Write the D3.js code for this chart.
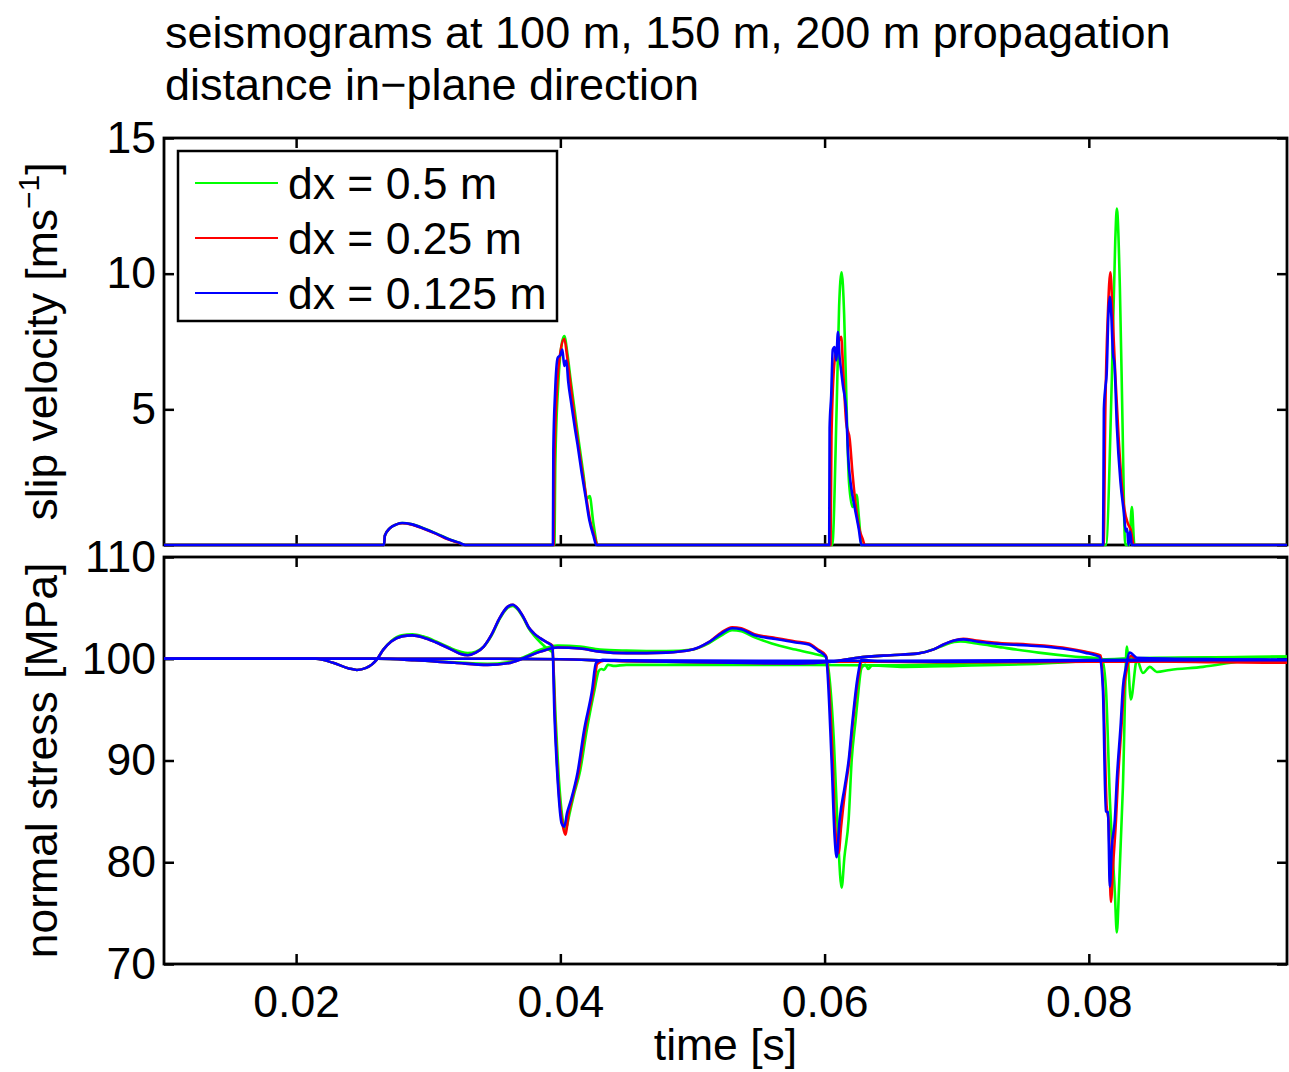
<!DOCTYPE html>
<html><head><meta charset="utf-8">
<script src="https://cdn.jsdelivr.net/npm/d3@7"></script>
<style>
body{margin:0;background:#fff}
svg{display:block}
text{font-family:"Liberation Sans",Arial,Helvetica,sans-serif;fill:#000}
</style>
</head><body>
<svg id="chart" width="1289" height="1072"></svg>
<script>
// ---------------- data ----------------
const titleLines = ["seismograms at 100 m, 150 m, 200 m propagation", "distance in\u2212plane direction"];
const seriesNames = ["dx = 0.5 m", "dx = 0.25 m", "dx = 0.125 m"];
const seriesColors = ["#00ff00", "#ff0000", "#0000ff"];
const timeDomain = [0.01, 0.095];
const timeTicks = [0.02, 0.04, 0.06, 0.08];
const timeTickLabels = ["0.02", "0.04", "0.06", "0.08"];
const slipDomain = [0, 15];
const slipTicks = [0, 5, 10, 15];
const slipTickLabels = ["", "5", "10", "15"];
const stressDomain = [70, 110];
const stressTicks = [70, 80, 90, 100, 110];
const stressTickLabels = ["70", "80", "90", "100", "110"];

// slip velocity [m/s] vs time [s]
const slip_dx050 = [
[0.0100,0],[0.02665,0],[0.02672,0.35],[0.02710,0.62],[0.02760,0.76],[0.02803,0.81],[0.02870,0.77],[0.02970,0.61],[0.03060,0.43],[0.03150,0.23],[0.03235,0.08],[0.03280,0],
[0.03955,0],[0.03962,3.0],[0.03985,6.0],[0.04010,7.4],[0.04030,7.7],[0.04055,7.0],[0.04080,6.0],[0.04110,4.9],[0.04140,3.8],[0.04175,2.6],[0.04200,1.7],[0.04222,1.8],[0.04250,0.8],[0.04285,0],
[0.06058,0],[0.06091,5.0],[0.06110,8.8],[0.06129,10.05],[0.06148,8.5],[0.06167,5.0],[0.06185,2.3],[0.06212,1.4],[0.06242,1.85],[0.06260,1.0],[0.06280,0],
[0.08129,0],[0.08174,6.1],[0.08200,11.2],[0.08212,12.4],[0.08235,9.5],[0.08255,4.5],[0.08273,0.2],[0.08280,0],[0.08305,0],[0.08326,1.4],[0.08345,0],[0.0950,0]
];
const slip_dx025 = [
[0.0100,0],[0.02665,0],[0.02672,0.35],[0.02710,0.62],[0.02760,0.76],[0.02803,0.8],[0.02870,0.76],[0.02970,0.59],[0.03060,0.41],[0.03150,0.21],[0.03235,0.07],[0.03280,0],
[0.03950,0],[0.03955,3.0],[0.03975,5.8],[0.04000,7.1],[0.04030,7.6],[0.04050,7.0],[0.04070,6.2],[0.04100,5.0],[0.04130,3.9],[0.04160,2.9],[0.04195,1.8],[0.04225,0.9],[0.04260,0.3],[0.04280,0],
[0.06045,0],[0.06052,4.0],[0.06076,6.8],[0.06101,7.4],[0.06126,7.67],[0.06140,6.5],[0.06164,4.5],[0.06190,3.9],[0.06212,2.6],[0.06237,1.4],[0.06265,0.55],[0.06290,0.2],[0.06303,0],
[0.08112,0],[0.08125,5.0],[0.08145,8.6],[0.08163,10.05],[0.08180,8.5],[0.08200,6.3],[0.08225,4.0],[0.08250,2.2],[0.08270,1.3],[0.08295,0.8],[0.08318,0.55],[0.08340,0],[0.0950,0]
];
const slip_dx0125 = [
[0.0100,0],[0.02665,0],[0.02672,0.35],[0.02710,0.62],[0.02760,0.76],[0.02803,0.81],[0.02870,0.77],[0.02970,0.6],[0.03060,0.42],[0.03150,0.22],[0.03235,0.08],[0.03280,0],
[0.03944,0],[0.03947,3.5],[0.03960,5.6],[0.03980,6.9],[0.04000,7.0],[0.04015,7.2],[0.04030,6.6],[0.04045,6.8],[0.04060,6.0],[0.04083,5.2],[0.04110,4.3],[0.04130,3.7],[0.04160,2.7],[0.04190,1.8],[0.04220,0.9],[0.04250,0.35],[0.04273,0],
[0.06035,0],[0.06038,4.3],[0.06050,5.5],[0.06062,7.2],[0.06076,7.3],[0.06088,6.8],[0.06101,7.85],[0.06114,6.9],[0.06126,6.4],[0.06138,5.9],[0.06164,4.9],[0.06177,3.4],[0.06202,2.1],[0.06227,1.4],[0.06260,0.55],[0.06278,0],
[0.08108,0],[0.08114,5.0],[0.08125,5.8],[0.08135,6.3],[0.08148,8.5],[0.08159,9.15],[0.08170,8.5],[0.08182,7.1],[0.08195,6.6],[0.08212,4.4],[0.08240,2.3],[0.08265,1.2],[0.08280,0.5],[0.08290,0.6],[0.08300,0],[0.08312,0.5],[0.08325,0],[0.0950,0]
];

// normal stress [MPa] vs time [s], station at 100 m
const stress100_dx050 = [
[0.0100,100],[0.0215,100],[0.0228,99.6],[0.0240,99.05],[0.0246,98.9],[0.0253,99.1],[0.0261,99.9],[0.0266,100.9],[0.0272,101.75],[0.0280,102.3],[0.0288,102.4],[0.0296,102.2],[0.0306,101.7],[0.0316,101.1],[0.0324,100.7],[0.0330,100.55],[0.0336,100.7],[0.0342,101.2],[0.0348,102.3],[0.0354,103.9],[0.0360,105.0],[0.0364,105.2],[0.0368,104.8],[0.0372,104.0],[0.0376,103.0],[0.0380,102.3],[0.0385,101.6],[0.0390,101.0],[0.0394,100.6],[0.03965,94.0],[0.0399,88.0],[0.0402,84.0],[0.0404,83.2],[0.0407,84.8],[0.0410,86.5],[0.0415,89.0],[0.0420,93.0],[0.0426,97.0],[0.0429,98.8],[0.0431,99.0],[0.0433,98.9],[0.0436,99.4],[0.0440,99.3],[0.0450,99.4],[0.0550,99.4],[0.0650,99.35],[0.0700,99.5],[0.0780,99.8],[0.0850,100.1],[0.0950,100.2]
];
const stress100_dx025 = [
[0.0100,100],[0.0215,100],[0.0228,99.6],[0.0240,99.05],[0.0246,98.9],[0.0253,99.1],[0.0261,99.9],[0.0266,100.9],[0.0272,101.7],[0.0280,102.2],[0.0288,102.3],[0.0296,102.1],[0.0306,101.6],[0.0316,101.0],[0.0324,100.5],[0.0330,100.35],[0.0336,100.6],[0.0342,101.2],[0.0348,102.4],[0.0354,104.0],[0.0360,105.1],[0.0364,105.3],[0.0368,104.9],[0.0372,104.1],[0.0376,103.1],[0.0380,102.5],[0.0385,102.0],[0.0390,101.6],[0.0394,101.3],[0.03960,94.0],[0.03985,87.5],[0.0402,83.5],[0.0404,82.7],[0.0406,84.6],[0.0409,86.3],[0.0414,89.0],[0.0419,93.2],[0.0425,97.0],[0.0428,99.5],[0.0433,99.8],[0.0450,99.75],[0.0550,99.7],[0.0650,99.7],[0.0750,99.75],[0.0850,99.8],[0.0950,99.7]
];
const stress100_dx0125 = [
[0.0100,100],[0.0215,100],[0.0228,99.6],[0.0240,99.05],[0.0246,98.9],[0.0253,99.1],[0.0261,99.9],[0.0266,100.9],[0.0272,101.7],[0.0280,102.2],[0.0288,102.3],[0.0296,102.1],[0.0306,101.6],[0.0316,101.0],[0.0324,100.5],[0.0330,100.35],[0.0336,100.6],[0.0342,101.2],[0.0348,102.4],[0.0354,104.0],[0.0360,105.1],[0.0364,105.3],[0.0368,104.9],[0.0372,104.1],[0.0376,103.1],[0.0380,102.5],[0.0385,102.0],[0.0390,101.6],[0.0394,101.2],[0.03955,94.6],[0.0398,88.0],[0.0401,83.8],[0.0403,83.5],[0.0405,84.8],[0.0408,86.1],[0.0413,88.8],[0.0418,93.0],[0.0424,96.9],[0.0427,99.6],[0.0432,99.9],[0.0450,99.85],[0.0550,99.8],[0.0650,99.8],[0.0750,99.85],[0.0850,99.9],[0.0950,99.9]
];

// station at 150 m
const stress150_dx050 = [
[0.0100,100],[0.0262,100],[0.0290,99.85],[0.0320,99.65],[0.0345,99.5],[0.0360,99.65],[0.0373,100.2],[0.0385,100.9],[0.0398,101.3],[0.0415,101.2],[0.0430,100.9],[0.0450,100.8],[0.0480,100.75],[0.0500,100.9],[0.0512,101.5],[0.0522,102.3],[0.0530,102.8],[0.0537,102.7],[0.0547,102.1],[0.0560,101.5],[0.0578,100.9],[0.0595,100.4],[0.0601,100.2],[0.06070,92.0],[0.06100,83.0],[0.06129,77.5],[0.06150,80.5],[0.06182,84.2],[0.06205,90.0],[0.06235,94.0],[0.06250,96.0],[0.06280,99.1],[0.06310,99.4],[0.06330,99.0],[0.06360,99.35],[0.0660,99.2],[0.0700,99.3],[0.0760,99.5],[0.0820,99.9],[0.0880,100.1],[0.0950,100.2]
];
const stress150_dx025 = [
[0.0100,100],[0.0262,100],[0.0290,99.85],[0.0320,99.6],[0.0345,99.4],[0.0360,99.55],[0.0373,100.1],[0.0385,100.7],[0.0398,101.1],[0.0415,101.0],[0.0430,100.7],[0.0450,100.55],[0.0480,100.6],[0.0500,100.9],[0.0512,101.6],[0.0522,102.6],[0.0530,103.1],[0.0537,103.0],[0.0547,102.4],[0.0560,102.1],[0.0578,101.7],[0.0588,101.5],[0.0595,100.9],[0.0601,100.3],[0.06060,90.5],[0.06080,83.5],[0.06106,80.9],[0.06125,83.5],[0.06155,87.0],[0.06185,89.8],[0.06215,93.8],[0.06253,98.0],[0.06285,99.8],[0.0640,99.7],[0.0700,99.65],[0.0800,99.7],[0.0900,99.75],[0.0950,99.7]
];
const stress150_dx0125 = [
[0.0100,100],[0.0262,100],[0.0290,99.85],[0.0320,99.6],[0.0345,99.4],[0.0360,99.55],[0.0373,100.1],[0.0385,100.7],[0.0398,101.1],[0.0415,101.0],[0.0430,100.7],[0.0450,100.55],[0.0480,100.6],[0.0500,100.9],[0.0512,101.6],[0.0522,102.5],[0.0530,103.0],[0.0537,102.9],[0.0547,102.3],[0.0560,102.0],[0.0578,101.6],[0.0588,101.4],[0.0595,100.8],[0.0601,100.2],[0.06053,90.0],[0.06076,82.5],[0.06091,80.5],[0.06114,84.2],[0.06152,87.4],[0.06182,90.0],[0.06212,94.0],[0.06250,98.2],[0.06280,99.9],[0.0640,99.75],[0.0700,99.7],[0.0800,99.8],[0.0900,99.85],[0.0950,99.85]
];

// station at 200 m
const stress200_dx050 = [
[0.0100,100],[0.0340,100],[0.0400,99.95],[0.0440,99.8],[0.0480,99.7],[0.0530,99.55],[0.0580,99.5],[0.0605,99.7],[0.0625,100.1],[0.0650,100.35],[0.0670,100.5],[0.0682,100.9],[0.0690,101.3],[0.0698,101.65],[0.0703,101.7],[0.0715,101.5],[0.0735,101.1],[0.0762,100.6],[0.0790,100.2],[0.0810,100.0],[0.08129,97.2],[0.08160,86.0],[0.08197,77.0],[0.08212,73.1],[0.08230,78.0],[0.08258,87.4],[0.08288,101.2],[0.08318,96.0],[0.08364,99.9],[0.08409,98.6],[0.08462,99.2],[0.08515,98.7],[0.08614,98.9],[0.08864,99.2],[0.09121,99.7],[0.09439,100.2],[0.0950,100.2]
];
const stress200_dx025 = [
[0.0100,100],[0.0340,100],[0.0400,99.95],[0.0440,99.8],[0.0480,99.7],[0.0530,99.6],[0.0580,99.55],[0.0605,99.7],[0.0625,100.1],[0.0650,100.35],[0.0670,100.5],[0.0682,100.9],[0.0690,101.4],[0.0698,101.8],[0.0705,101.95],[0.0715,101.8],[0.0728,101.6],[0.0754,101.4],[0.0780,101.1],[0.0797,100.7],[0.0809,100.3],[0.08112,96.0],[0.08135,85.5],[0.08150,84.0],[0.08167,76.1],[0.08185,80.0],[0.08205,84.0],[0.08220,88.0],[0.08248,93.5],[0.08265,97.0],[0.08288,99.0],[0.08318,100.3],[0.08370,99.8],[0.0900,99.65],[0.0950,99.6]
];
const stress200_dx0125 = [
[0.0100,100],[0.0340,100],[0.0400,99.95],[0.0440,99.8],[0.0480,99.7],[0.0530,99.6],[0.0580,99.55],[0.0605,99.7],[0.0625,100.1],[0.0650,100.35],[0.0670,100.5],[0.0682,100.9],[0.0690,101.4],[0.0698,101.8],[0.0705,101.9],[0.0715,101.7],[0.0728,101.5],[0.0754,101.3],[0.0780,101.0],[0.0797,100.6],[0.0808,100.2],[0.08106,97.2],[0.08129,85.0],[0.08145,84.9],[0.08159,77.6],[0.08174,81.5],[0.08197,84.2],[0.08212,88.1],[0.08242,93.7],[0.08258,97.2],[0.08280,99.1],[0.08311,100.6],[0.08364,100.1],[0.0900,99.95],[0.0950,99.9]
];

const slipSeries = [slip_dx050, slip_dx025, slip_dx0125];
const stressSeries = [
  [stress100_dx050, stress150_dx050, stress200_dx050],
  [stress100_dx025, stress150_dx025, stress200_dx025],
  [stress100_dx0125, stress150_dx0125, stress200_dx0125]
];

// ---------------- drawing ----------------
const svg = d3.select("#chart");
const FONT = 44.5;
const TITLE_FONT = 45;
const plotLeft = 164, plotRight = 1287;
const top1 = 138, bot1 = 545, top2 = 557, bot2 = 964;

const x = d3.scaleLinear().domain(timeDomain).range([plotLeft, plotRight]);
const ySlip = d3.scaleLinear().domain(slipDomain).range([bot1, top1]);
const yStress = d3.scaleLinear().domain(stressDomain).range([bot2, top2]);

// title
svg.append("g").selectAll("text").data(titleLines).join("text")
  .attr("x", 165).attr("y", (d, i) => 48 + i * 52)
  .attr("font-size", TITLE_FONT).text(d => d);

function drawAxes(yScale, yTicks, yLabels, showX, yTop, yBot) {
  const g = svg.append("g");
  const tickLen = 10;
  const styleAxis = sel => {
    sel.selectAll(".domain").remove();
    sel.selectAll(".tick line").attr("stroke", "#000").attr("stroke-width", 2.5);
    sel.selectAll(".tick text").attr("font-size", FONT)
      .attr("font-family", "'Liberation Sans',Arial,Helvetica,sans-serif").attr("fill", "#000");
  };
  g.append("g").attr("transform", `translate(${plotLeft},0)`)
    .call(d3.axisLeft(yScale).tickValues(yTicks).tickSize(-tickLen).tickPadding(8)
      .tickFormat((d, i) => yLabels[i])).call(styleAxis);
  g.append("g").attr("transform", `translate(${plotRight},0)`)
    .call(d3.axisRight(yScale).tickValues(yTicks).tickSize(-tickLen).tickFormat("")).call(styleAxis);
  g.append("g").attr("transform", `translate(0,${yBot})`)
    .call(d3.axisBottom(x).tickValues(timeTicks).tickSize(-tickLen).tickPadding(21)
      .tickFormat((d, i) => showX ? timeTickLabels[i] : "")).call(styleAxis);
  g.append("g").attr("transform", `translate(0,${yTop})`)
    .call(d3.axisTop(x).tickValues(timeTicks).tickSize(-tickLen).tickFormat("")).call(styleAxis);
  g.append("rect").attr("x", plotLeft).attr("y", yTop)
    .attr("width", plotRight - plotLeft).attr("height", yBot - yTop)
    .attr("fill", "none").attr("stroke", "#000").attr("stroke-width", 2.8);
}

drawAxes(ySlip, slipTicks, slipTickLabels, false, top1, bot1);
drawAxes(yStress, stressTicks, stressTickLabels, true, top2, bot2);

const defs = svg.append("defs");
defs.append("clipPath").attr("id", "clip1").append("rect")
  .attr("x", plotLeft).attr("y", top1 - 2).attr("width", plotRight - plotLeft + 2).attr("height", bot1 - top1 + 4);
defs.append("clipPath").attr("id", "clip2").append("rect")
  .attr("x", plotLeft).attr("y", top2 - 2).attr("width", plotRight - plotLeft + 2).attr("height", bot2 - top2 + 4);

const lineSlip = d3.line().x(d => x(d[0])).y(d => ySlip(d[1])).curve(d3.curveMonotoneX);
const lineStress = d3.line().x(d => x(d[0])).y(d => yStress(d[1])).curve(d3.curveMonotoneX);

const gData1 = svg.append("g").attr("clip-path", "url(#clip1)");
slipSeries.forEach((s, i) => {
  gData1.append("path").attr("d", lineSlip(s)).attr("fill", "none")
    .attr("stroke", seriesColors[i]).attr("stroke-width", 2.6).attr("stroke-linejoin", "round");
});
const gData2 = svg.append("g").attr("clip-path", "url(#clip2)");
stressSeries.forEach((group, i) => {
  group.forEach(s => {
    gData2.append("path").attr("d", lineStress(s)).attr("fill", "none")
      .attr("stroke", seriesColors[i]).attr("stroke-width", 2.6).attr("stroke-linejoin", "round");
  });
});

// axis titles
const yl1 = svg.append("text").attr("transform", `translate(57,${(top1 + bot1) / 2}) rotate(-90)`)
  .attr("text-anchor", "middle").attr("font-size", FONT);
yl1.append("tspan").text("slip velocity [ms");
yl1.append("tspan").attr("font-size", 30).attr("dy", -18).text("\u22121");
yl1.append("tspan").attr("dy", 18).text("]");

svg.append("text").attr("transform", `translate(57,${(top2 + bot2) / 2}) rotate(-90)`)
  .attr("text-anchor", "middle").attr("font-size", FONT).text("normal stress [MPa]");

svg.append("text").attr("x", (plotLeft + plotRight) / 2).attr("y", 1060)
  .attr("text-anchor", "middle").attr("font-size", FONT).text("time [s]");

// legend
const lg = svg.append("g");
lg.append("rect").attr("x", 178).attr("y", 151).attr("width", 379).attr("height", 170)
  .attr("fill", "#fff").attr("stroke", "#000").attr("stroke-width", 2.5);
const rowY = [183, 238, 293];
seriesNames.forEach((name, i) => {
  lg.append("line").attr("x1", 195).attr("x2", 278).attr("y1", rowY[i]).attr("y2", rowY[i])
    .attr("stroke", seriesColors[i]).attr("stroke-width", 2);
  lg.append("text").attr("x", 288).attr("y", rowY[i] + 16).attr("font-size", FONT).text(name);
});
</script>
</body></html>
